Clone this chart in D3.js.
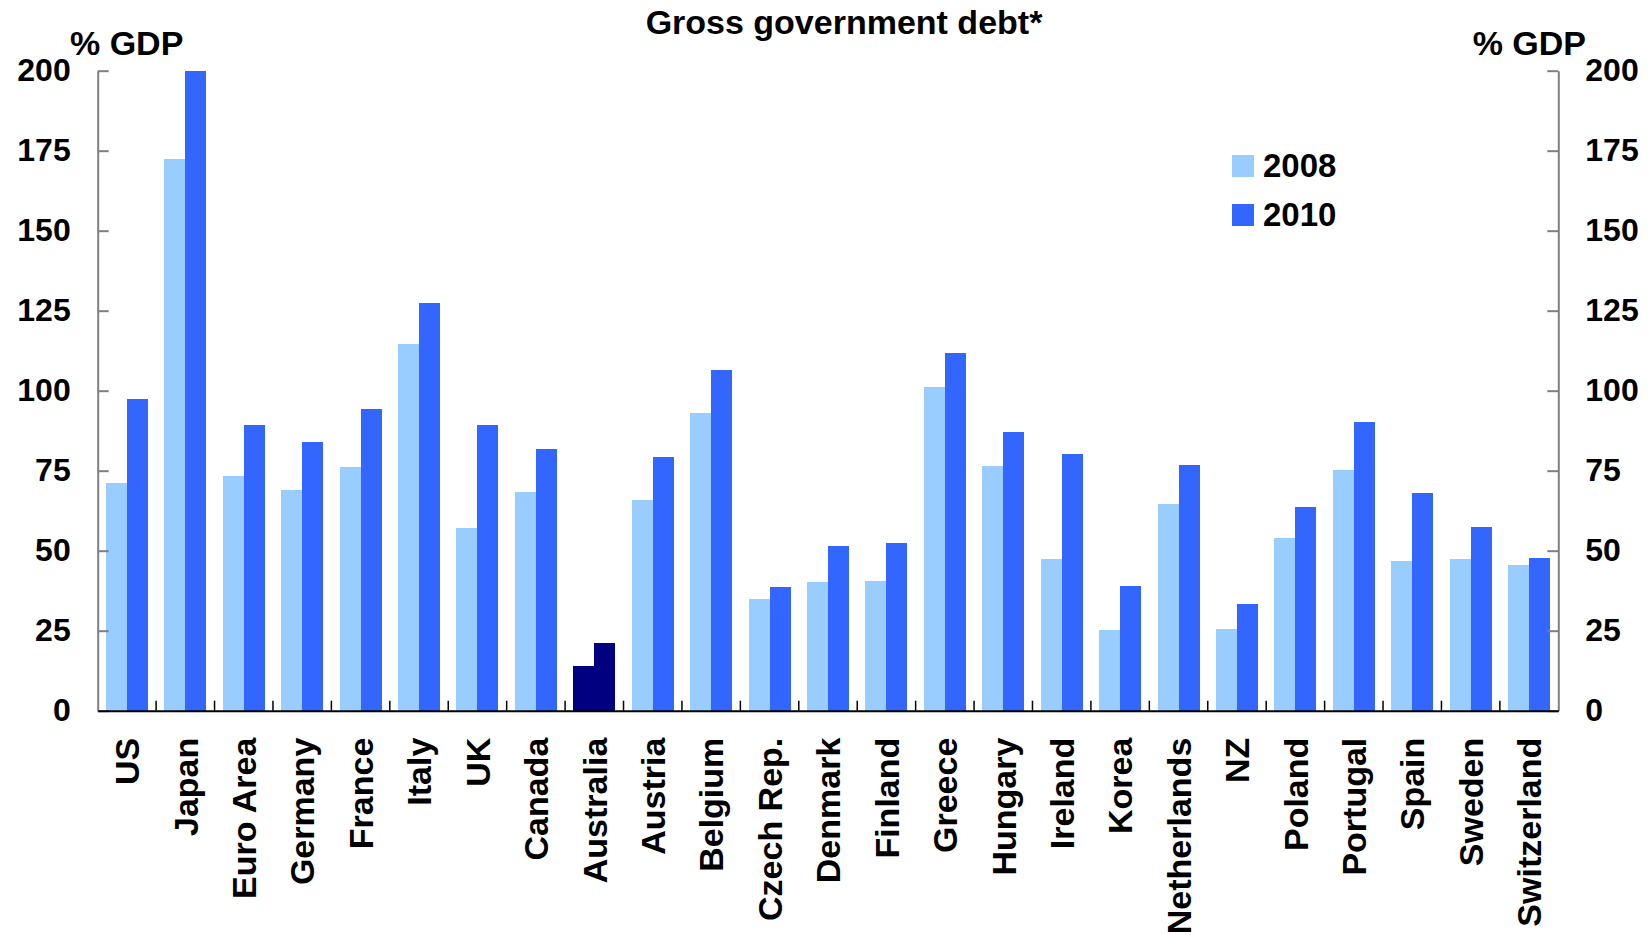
<!DOCTYPE html>
<html>
<head>
<meta charset="utf-8">
<script src="https://cdn.jsdelivr.net/npm/d3@7"></script>
<style>
  html, body { margin: 0; padding: 0; background: #fff; }
  svg text { font-family: "Liberation Sans", Arial, sans-serif; font-weight: bold; fill: #000; }
</style>
</head>
<body>
<svg id="chart" width="1650" height="935"></svg>
<script>
const categories = ["US","Japan","Euro Area","Germany","France","Italy","UK","Canada","Australia","Austria","Belgium","Czech Rep.","Denmark","Finland","Greece","Hungary","Ireland","Korea","Netherlands","NZ","Poland","Portugal","Spain","Sweden","Switzerland"];
const values2008 = [71.2,172.3,73.2,68.9,76.1,114.7,57.0,68.3,14.1,65.8,93.0,34.8,40.1,40.4,101.1,76.4,47.3,25.1,64.5,25.4,53.9,75.2,46.7,47.3,45.4];
const values2010 = [97.4,200.0,89.3,84.0,94.3,127.5,89.3,81.7,21.3,79.3,106.4,38.8,51.4,52.3,111.7,87.1,80.2,39.1,76.7,33.2,63.6,90.2,68.0,57.3,47.6];
const seriesNames = ["2008","2010"];
const yTicks = [0,25,50,75,100,125,150,175,200];
const title = "Gross government debt*";
const unitLabel = "% GDP";
const highlight = "Australia";

const colors = {"2008": "#99CCFF", "2010": "#3366FF"};
const highlightColor = "#000080";

const svg = d3.select("#chart");
const pLeft = 97.7, pRight = 1558.3, pTop = 70.7, pBottom = 710.7;

const x = d3.scaleBand().domain(categories).range([pLeft, pRight]).paddingInner(0.28).paddingOuter(0.14);
const xs = d3.scaleBand().domain(seriesNames).range([0, x.bandwidth()]).padding(0);
const y = d3.scaleLinear().domain([0, 200]).range([pBottom, pTop]);

const data = categories.map((c, i) => ({cat: c, vals: [
  {s: "2008", v: values2008[i]}, {s: "2010", v: values2010[i]}
]}));

// bars
const g = svg.append("g").attr("shape-rendering", "crispEdges");
g.selectAll("g.cat").data(data).join("g")
  .attr("class", "cat")
  .attr("transform", d => `translate(${x(d.cat)},0)`)
  .selectAll("rect").data(d => d.vals.map(v => ({...v, cat: d.cat}))).join("rect")
  .attr("x", d => xs(d.s))
  .attr("width", xs.bandwidth())
  .attr("y", d => y(d.v))
  .attr("height", d => y(0) - y(d.v))
  .attr("fill", d => d.cat === highlight ? highlightColor : colors[d.s]);

// left axis
const axL = svg.append("g").attr("transform", `translate(${pLeft},0)`)
  .call(d3.axisLeft(y).tickValues(yTicks).tickSize(-11).tickPadding(27).tickSizeOuter(0));
axL.select(".domain").attr("stroke", "#808080").attr("stroke-width", 2);
axL.selectAll(".tick line").attr("stroke", "#808080").attr("stroke-width", 2);
axL.selectAll(".tick text").style("font-size", "32px").attr("font-family", null);

// right axis
const axR = svg.append("g").attr("transform", `translate(${pRight},0)`)
  .call(d3.axisRight(y).tickValues(yTicks).tickSize(-11).tickPadding(27).tickSizeOuter(0));
axR.select(".domain").attr("stroke", "#808080").attr("stroke-width", 2);
axR.selectAll(".tick line").attr("stroke", "#808080").attr("stroke-width", 2);
axR.selectAll(".tick text").style("font-size", "32px").attr("font-family", null);

// bottom axis
const axB = svg.append("g").attr("transform", `translate(0,${pBottom})`)
  .call(d3.axisBottom(x).tickSize(0).tickSizeOuter(0));
axB.select(".domain").attr("stroke", "#000").attr("stroke-width", 2);
axB.selectAll(".tick text")
  .attr("transform", "rotate(-90)")
  .attr("x", -27).attr("y", 0).attr("dy", "0.36em")
  .attr("text-anchor", "end")
  .attr("font-family", null)
  .style("font-size", "34px");

// category boundary ticks
svg.append("g").selectAll("line").data(categories.slice(1)).join("line")
  .attr("x1", d => x(d) - x.step() * x.paddingInner() / 2)
  .attr("x2", d => x(d) - x.step() * x.paddingInner() / 2)
  .attr("y1", pBottom - 10).attr("y2", pBottom)
  .attr("stroke", "#000").attr("stroke-width", 1.5);

// title & unit labels
svg.append("text").attr("x", 844).attr("y", 34).attr("text-anchor", "middle")
  .style("font-size", "34px").text(title);
svg.append("text").attr("x", 70).attr("y", 55).attr("text-anchor", "start")
  .style("font-size", "34px").text(unitLabel);
svg.append("text").attr("x", 1586).attr("y", 55).attr("text-anchor", "end")
  .style("font-size", "34px").text(unitLabel);

// legend
const leg = svg.append("g");
seriesNames.forEach((s, i) => {
  const yy = 155 + i * 49;
  leg.append("rect").attr("x", 1232).attr("y", yy).attr("width", 22).attr("height", 22).attr("fill", colors[s]);
  leg.append("text").attr("x", 1263).attr("y", yy + 22).style("font-size", "33px").text(s);
});
</script>
</body>
</html>
